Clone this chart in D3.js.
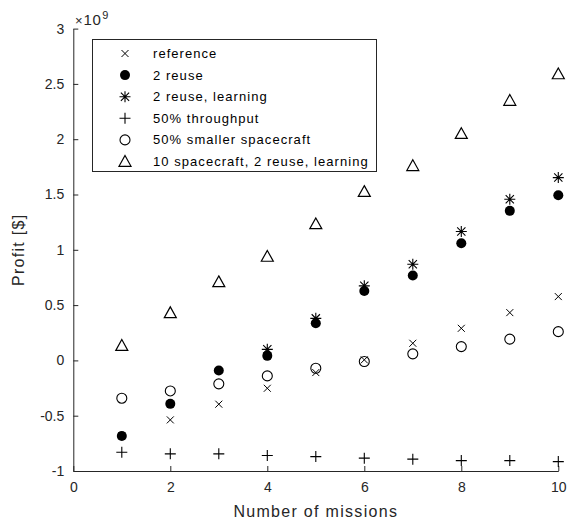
<!DOCTYPE html>
<html><head><meta charset="utf-8">
<script src="https://cdn.jsdelivr.net/npm/d3@7"></script>
<style>body{margin:0;background:#fff}svg{display:block;font-family:"Liberation Sans",Arial,Helvetica,sans-serif}</style>
</head><body><div id="chart"></div>
<script>
const missions = [1,2,3,4,5,6,7,8,9,10];
const reference = [-0.68,-0.538,-0.396,-0.252,-0.11,0.005,0.155,0.29,0.432,0.577];
const reuse2 = [-0.683,-0.393,-0.092,0.041,0.336,0.628,0.767,1.06,1.352,1.494];
const reuse2Learning = [null,null,null,0.10,0.38,0.674,0.87,1.165,1.457,1.653];
const throughput50 = [-0.83,-0.845,-0.845,-0.86,-0.87,-0.884,-0.893,-0.906,-0.906,-0.915];
const smaller50 = [-0.342,-0.276,-0.212,-0.14,-0.071,-0.01,0.059,0.125,0.192,0.26];
const sc10 = [0.134,0.43,0.71,0.94,1.234,1.526,1.76,2.05,2.35,2.59];
const seriesNames = ["reference","2 reuse","2 reuse, learning","50% throughput","50% smaller spacecraft","10 spacecraft, 2 reuse, learning"];
const seriesMarkers = ["x","dot","star","plus","circle","triangle"];
const seriesValues = [reference,reuse2,reuse2Learning,throughput50,smaller50,sc10];
const xTicks = [0,2,4,6,8,10];
const yTicks = [-1,-0.5,0,0.5,1,1.5,2,2.5,3];

const W=568,H=526;
const svg=d3.select("#chart").append("svg").attr("width",W).attr("height",H);
const x=d3.scaleLinear().domain([0,10]).range([73.3,558.3]);
const y=d3.scaleLinear().domain([-1,3]).range([471,28.6]);
const axc="#262626";

const gx=svg.append("g").attr("transform",`translate(0,${y(-1)})`)
 .call(d3.axisBottom(x).tickValues(xTicks).tickSizeInner(-5).tickSizeOuter(0).tickPadding(11).tickFormat(d3.format("d")));
const gy=svg.append("g").attr("transform",`translate(${x(0)},0)`)
 .call(d3.axisLeft(y).tickValues(yTicks).tickSizeInner(-5).tickSizeOuter(0).tickPadding(9));
[gx,gy].forEach(g=>{g.select(".domain").attr("stroke",axc).attr("stroke-width",1);
 g.selectAll(".tick line").attr("stroke",axc);
 g.selectAll("text").attr("fill",axc).attr("font-size",14).attr("font-family","Liberation Sans, Arial, sans-serif");});
gy.selectAll(".tick text").text(d=>d<0?"-"+Math.abs(d):String(d));

const ex=svg.append("text").attr("x",75).attr("y",25).attr("fill",axc).attr("font-size",15);
ex.append("tspan").attr("font-size",13).text("×");
ex.append("tspan").attr("dx",1).attr("letter-spacing",0.5).text("10");
ex.append("tspan").attr("dy",-6).attr("dx",1).attr("font-size",11).text("9");

svg.append("text").attr("x",(x(0)+x(10))/2).attr("y",517).attr("text-anchor","middle").attr("fill",axc).attr("font-size",16).attr("letter-spacing",1.3).text("Number of missions");
svg.append("text").attr("transform",`translate(24,${(y(-1)+y(3))/2}) rotate(-90)`).attr("text-anchor","middle").attr("fill",axc).attr("font-size",16).attr("letter-spacing",1.3).text("Profit [$]");

function marker(g,type,cx,cy){
  const s="#000";
  if(type==="x"){const r=3.5;g.append("path").attr("d",`M${cx-r},${cy-r}L${cx+r},${cy+r}M${cx-r},${cy+r}L${cx+r},${cy-r}`).attr("stroke",s).attr("stroke-width",1).attr("fill","none");}
  else if(type==="dot"){g.append("circle").attr("cx",cx).attr("cy",cy).attr("r",5).attr("fill",s);}
  else if(type==="circle"){g.append("circle").attr("cx",cx).attr("cy",cy).attr("r",5).attr("fill","none").attr("stroke",s).attr("stroke-width",1.1);}
  else if(type==="plus"){const r=5.5;g.append("path").attr("d",`M${cx-r},${cy}L${cx+r},${cy}M${cx},${cy-r}L${cx},${cy+r}`).attr("stroke",s).attr("stroke-width",1.1).attr("fill","none");}
  else if(type==="star"){const r=5.5,d=r*0.75;g.append("path").attr("d",`M${cx-r},${cy}L${cx+r},${cy}M${cx},${cy-r}L${cx},${cy+r}M${cx-d},${cy-d}L${cx+d},${cy+d}M${cx-d},${cy+d}L${cx+d},${cy-d}`).attr("stroke",s).attr("stroke-width",1.1).attr("fill","none");}
  else if(type==="triangle"){const r=6;g.append("path").attr("d",`M${cx},${cy-r}L${cx+r},${cy+r*0.8}L${cx-r},${cy+r*0.8}Z`).attr("stroke",s).attr("stroke-width",1.2).attr("fill","none").attr("stroke-linejoin","miter");}
}

const plot=svg.append("g");
seriesValues.forEach((vals,i)=>{
  vals.forEach((v,j)=>{ if(v!==null) marker(plot,seriesMarkers[i],x(missions[j]),y(v)); });
});

const lg=svg.append("g");
lg.append("rect").attr("x",92.5).attr("y",39.5).attr("width",284).attr("height",132).attr("fill","#fff").attr("stroke","#262626").attr("stroke-width",1);
seriesNames.forEach((n,i)=>{
  const cy=53.5+i*21.6;
  marker(lg,seriesMarkers[i],125,cy);
  lg.append("text").attr("x",153).attr("y",cy+4.5).attr("font-size",13).attr("letter-spacing",1.05).attr("fill","#000").text(n);
});
</script></body></html>
